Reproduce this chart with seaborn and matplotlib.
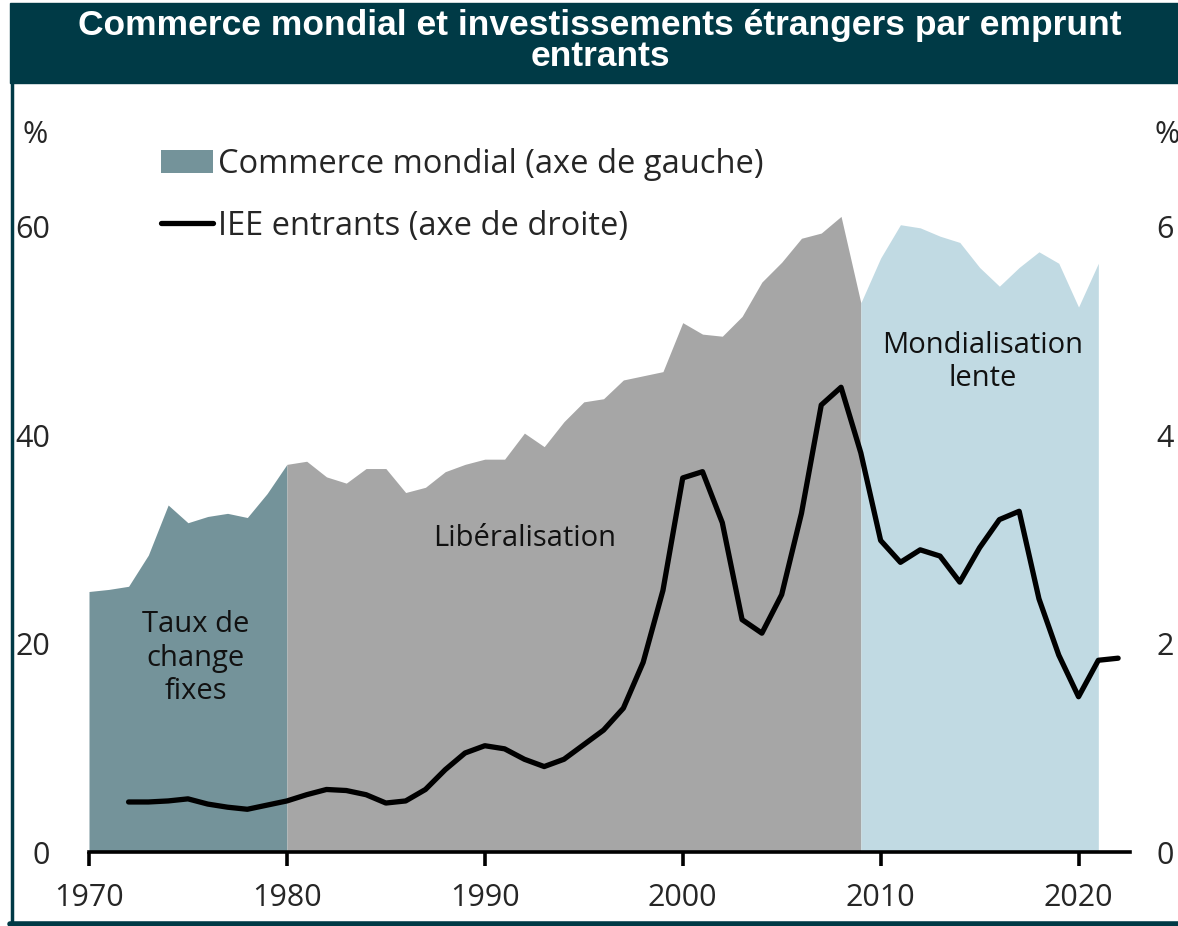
import matplotlib
matplotlib.use("Agg")
import matplotlib.pyplot as plt
from matplotlib.patches import Rectangle, Patch
from matplotlib.lines import Line2D
import numpy as np
import pandas as pd
import seaborn as sns

# World trade, % of GDP (left axis)
trade_years = list(range(1970, 2022))
trade_values = [25.0, 25.2, 25.5, 28.5, 33.3, 31.6, 32.2, 32.5, 32.1, 34.4,
                37.2, 37.5, 36.0, 35.4, 36.8, 36.8, 34.5, 35.0, 36.5, 37.2,
                37.7, 37.7, 40.2, 38.9, 41.3, 43.2, 43.5, 45.3, 45.7, 46.1,
                50.8, 49.7, 49.5, 51.4, 54.7, 56.6, 58.9, 59.4, 61.0, 52.7,
                57.0, 60.2, 59.9, 59.1, 58.5, 56.1, 54.3, 56.1, 57.6, 56.5,
                52.3, 56.5]

# Inward FDI, % of GDP (right axis)
fdi_years = list(range(1972, 2023))
fdi_values = [0.48, 0.48, 0.49, 0.51, 0.46, 0.43, 0.41, 0.45, 0.49, 0.55,
              0.60, 0.59, 0.55, 0.47, 0.49, 0.60, 0.79, 0.95, 1.02, 0.99,
              0.89, 0.82, 0.89, 1.03, 1.17, 1.38, 1.82, 2.51, 3.59, 3.65,
              3.16, 2.23, 2.10, 2.47, 3.25, 4.29, 4.46, 3.83, 2.99, 2.78,
              2.90, 2.84, 2.59, 2.92, 3.19, 3.27, 2.43, 1.89, 1.49, 1.84, 1.86]

# Periods: (start, end, colour, label)
periods = [(1970, 1980, "#74939a", "Taux de\nchange\nfixes"),
           (1980, 2009, "#a6a6a6", "Libéralisation"),
           (2009, 2021, "#c1dae3", "Mondialisation\nlente")]
period_label_pos = [(1975.4, 18.6), (1992.0, 30.1), (2015.15, 47.0)]

x_ticks = [1970, 1980, 1990, 2000, 2010, 2020]
left_ticks = [0, 20, 40, 60]
right_ticks = [0, 2, 4, 6]

title = "Commerce mondial et investissements étrangers par emprunt\nentrants"
trade_label = "Commerce mondial (axe de gauche)"
fdi_label = "IEE entrants (axe de droite)"

dark = "#003a46"

sns.set_theme(style="white")
plt.rcParams["font.family"] = ["Open Sans", "DejaVu Sans"]

fig = plt.figure(figsize=(11.78, 9.26), dpi=100)
ax = fig.add_axes([89 / 1178, 74 / 926, (1130 - 89) / 1178, (852 - 122.6) / 926])
ax2 = ax.twinx()

trade = pd.DataFrame({"year": trade_years, "value": trade_values})
fdi = pd.DataFrame({"year": fdi_years, "value": fdi_values})

for (start, end, colour, label), (lx, ly) in zip(periods, period_label_pos):
    seg = trade[(trade.year >= start) & (trade.year <= end)]
    ax.fill_between(seg.year, 0, seg.value, color=colour, lw=0, zorder=1)
    ax.text(lx, ly, label, ha="center", va="center", fontsize=21,
            color="#111111", linespacing=1.2, zorder=3)

sns.lineplot(data=fdi, x="year", y="value", ax=ax2, color="black", lw=3.8,
             zorder=4)

ax.set_xlim(1970, 2022.6)
ax.set_ylim(0, 70)
ax2.set_ylim(0, 7)
ax.set_xticks(x_ticks)
ax.set_yticks(left_ticks)
ax2.set_yticks(right_ticks)
ax.set_xlabel("")
ax.set_ylabel("")
ax2.set_xlabel("")
ax2.set_ylabel("")
ax.tick_params(axis="x", direction="out", length=10, width=2.6, color="black",
               labelsize=22, pad=12, bottom=True)
ax.tick_params(axis="y", length=0, labelsize=22, pad=28)
ax2.tick_params(axis="y", length=0, labelsize=22, pad=19)
for a in (ax, ax2):
    for side in ("top", "left", "right", "bottom"):
        a.spines[side].set_visible(False)
ax.spines["bottom"].set_visible(True)
ax.spines["bottom"].set_color("black")
ax.spines["bottom"].set_linewidth(2.6)
ax.spines["bottom"].set_zorder(5)
ax.grid(False)
ax2.grid(False)
ax.set_zorder(ax2.get_zorder() - 1)
ax2.patch.set_visible(False)

# Unit labels above each axis
fig.text(35 / 1178, 1 - 135 / 926, "%", ha="center", va="center", fontsize=22)
fig.text(1167 / 1178, 1 - 135 / 926, "%", ha="center", va="center", fontsize=22)

handles = [Patch(facecolor=periods[0][2], edgecolor="none"),
           Line2D([0], [0], color="black", lw=3.8, solid_capstyle="round")]
fig.legend(handles, [trade_label, fdi_label], loc="upper left",
           bbox_to_anchor=(148 / 1178, 1 - 135 / 926), frameon=False,
           fontsize=23.5, handlelength=1.6, handleheight=0.7,
           handletextpad=0.15, labelspacing=0.88, borderaxespad=0)

# Title banner and frame
fig.patches.append(Rectangle((10 / 1178, 1 - 83 / 926), 1 - 10 / 1178, 80 / 926,
                             transform=fig.transFigure, color=dark, zorder=0))
fig.text(600 / 1178, 1 - 41 / 926, title, ha="center", va="center",
         fontsize=25.5, fontweight="bold", color="white",
         family=["Liberation Sans", "DejaVu Sans"], linespacing=0.92)
fig.lines.append(Line2D([11.5 / 1178, 11.5 / 1178], [1 - 926 / 926, 1 - 80 / 926],
                        transform=fig.transFigure, color=dark, lw=2.5))
fig.lines.append(Line2D([10 / 1178, 1], [1 - 923.5 / 926, 1 - 923.5 / 926],
                        transform=fig.transFigure, color=dark, lw=4))

fig.savefig("out.png", dpi=100)
